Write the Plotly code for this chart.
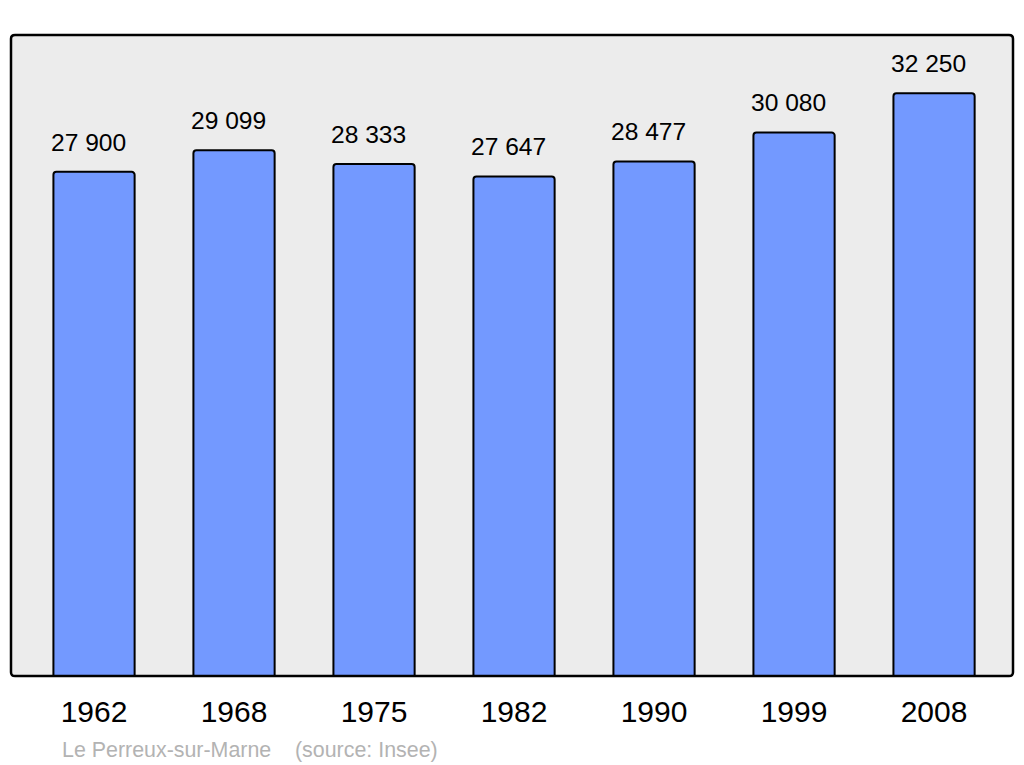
import plotly.graph_objects as go

years = ["1962", "1968", "1975", "1982", "1990", "1999", "2008"]
population = [27900, 29099, 28333, 27647, 28477, 30080, 32250]
value_labels = ["27 900", "29 099", "28 333", "27 647", "28 477", "30 080", "32 250"]
source_text = "Le Perreux-sur-Marne    (source: Insee)"

FONT = "Liberation Sans, Arial, sans-serif"

fig = go.Figure()
fig.add_trace(go.Bar(
    x=years, y=population,
    width=0.58,
    marker=dict(color="#7399ff", line=dict(color="#000000", width=2), cornerradius=3),
    hoverinfo="skip",
))

for i, (v, lab) in enumerate(zip(population, value_labels)):
    fig.add_annotation(x=i, y=v, xref="x", yref="y", text=lab, showarrow=False,
                       yanchor="bottom", yshift=14, xshift=-6,
                       font=dict(family=FONT, size=24.6, color="#000000"))

fig.add_annotation(xref="paper", yref="paper", x=(60 - 11) / 1002, y=-(736 - 676) / 641,
                   xanchor="left", yanchor="top", text=source_text, showarrow=False,
                   font=dict(family=FONT, size=21.4, color="#b3b3b3"))

# rounded frame
fig.add_shape(type="path", xref="paper", yref="paper", layer="above",
              path="M 0.004,0 L 0.996,0 Q 1,0 1,0.006 L 1,0.994 Q 1,1 0.996,1 L 0.004,1 Q 0,1 0,0.994 L 0,0.006 Q 0,0 0.004,0 Z",
              line=dict(color="#000000", width=2.5))

fig.update_layout(
    width=1024, height=765,
    margin=dict(l=11, r=11, t=35, b=89),
    paper_bgcolor="#ffffff",
    plot_bgcolor="#ececec",
    showlegend=False,
    font=dict(family=FONT, color="#000000"),
    xaxis=dict(type="category", range=[-0.593, 6.564], showgrid=False, zeroline=False,
               showline=False, ticks="", tickfont=dict(family=FONT, size=30, color="#000000"),
               ticklabelstandoff=15),
    yaxis=dict(range=[0, 35475], showgrid=False, zeroline=False, showline=False,
               showticklabels=False, ticks=""),
)

fig.write_html("out.html", config={"displayModeBar": False},
               post_script="document.body.style.margin='0';document.body.style.overflow='hidden';")
